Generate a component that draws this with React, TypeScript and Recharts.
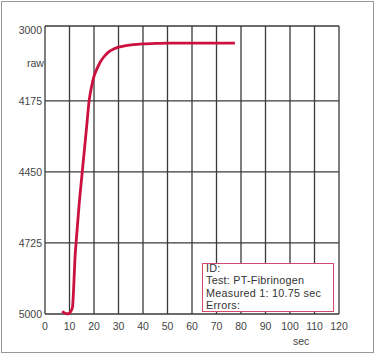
import { LineChart, Line, XAxis, YAxis, CartesianGrid } from "recharts";

const seconds = [7, 8, 9, 9.7, 10.5, 11.2, 11.7, 12.2, 12.8, 14, 15, 16, 17, 18, 19, 20, 21, 22, 23, 24, 26, 28, 30, 33, 36, 40, 45, 50, 60, 70, 77.5];
const raw = [4990, 4996, 4999, 4999, 4990, 4975, 4900, 4790, 4710, 4568, 4470, 4372, 4275, 4175, 4120, 4080, 4055, 4035, 4018, 4005, 3985, 3974, 3967, 3961, 3957, 3954, 3952, 3951, 3951, 3951, 3951];

const xTicks = [0, 10, 20, 30, 40, 50, 60, 70, 80, 90, 100, 110, 120];
const yTicks = [3900, 4175, 4450, 4725, 5000];
const yTickLabels = ["3000", "4175", "4450", "4725", "5000"];
const gridRows = [3885, 4175, 4450, 4725, 5000];

const infoLines = ["ID:", "Test: PT-Fibrinogen", "Measured 1: 10.75 sec", "Errors:"];

const data = seconds.map((t, i) => ({ t, v: raw[i] }));

const narrow = "'Liberation Sans Narrow', 'Arial Narrow', sans-serif";
const tickFont = { fontFamily: narrow, fontSize: 10.5, fill: "#444" };

const labelStyle = {
  fontFamily: narrow,
  fontSize: 10.5,
  lineHeight: "14px",
  color: "#444",
};

export default function App() {
  return (
    <div style={{ position: "fixed", left: 0, top: 0, width: 375, height: 354, background: "#fff" }}>
      <LineChart width={375} height={354} data={data} margin={{ top: 26, right: 36, left: 0, bottom: 0 }}>
        <CartesianGrid
          stroke="#3a3a3a"
          strokeWidth={1.3}
          horizontalValues={gridRows}
          verticalValues={xTicks}
        />
        <XAxis
          dataKey="t"
          type="number"
          domain={[0, 120]}
          ticks={xTicks}
          interval={0}
          height={40}
          axisLine={false}
          tickLine={false}
          tickSize={0}
          tickMargin={9}
          tick={tickFont}
        />
        <YAxis
          type="number"
          reversed
          domain={[3885, 5000]}
          ticks={yTicks}
          interval={0}
          width={45}
          axisLine={false}
          tickLine={false}
          tickSize={0}
          tickMargin={3}
          tick={tickFont}
          tickFormatter={(v: number) => yTickLabels[yTicks.indexOf(v)] ?? String(v)}
        />
        <Line
          dataKey="v"
          type="monotone"
          stroke="#cc1040"
          strokeWidth={2.8}
          dot={false}
          isAnimationActive={false}
        />
      </LineChart>
      <div style={{ position: "absolute", left: 27, top: 56, ...labelStyle }}>raw</div>
      <div style={{ position: "absolute", left: 293, top: 334, ...labelStyle }}>sec</div>
      {/* info box over the grid */}
      <div
        style={{
          position: "absolute",
          left: 202,
          top: 263,
          width: 130,
          height: 47,
          border: "1px solid #d4476e",
          background: "#fff",
        }}
      />
      <div
        style={{
          position: "absolute",
          left: 206,
          top: 262,
          fontFamily: narrow,
          fontSize: 10.8,
          lineHeight: "12.4px",
          letterSpacing: 0.25,
          color: "#333",
          whiteSpace: "nowrap",
        }}
      >
        {infoLines.map((l) => (
          <div key={l}>{l}</div>
        ))}
      </div>
      <div
        style={{
          position: "absolute",
          left: 1,
          top: 1,
          width: 371,
          height: 350,
          border: "1px solid #999",
          pointerEvents: "none",
        }}
      />
    </div>
  );
}
